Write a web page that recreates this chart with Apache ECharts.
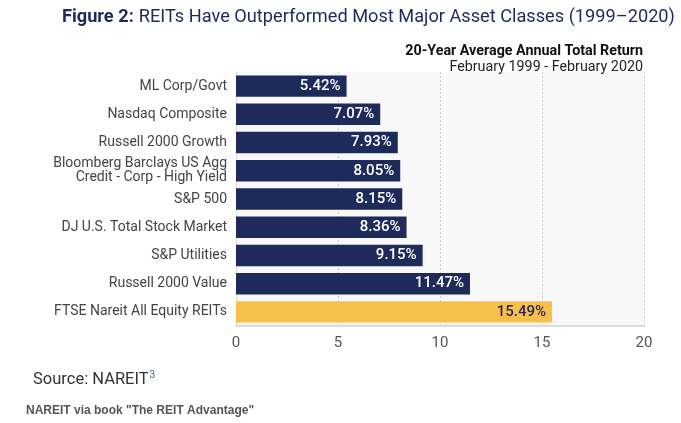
<!DOCTYPE html>
<html>
<head>
<meta charset="utf-8">
<script src="https://cdn.jsdelivr.net/npm/echarts@6/dist/echarts.min.js"></script>
<style>
html,body{margin:0;padding:0;background:#fff;}
#c{width:681px;height:423px;}
</style>
</head>
<body>
<div id="c"></div>
<script>
var categories = [
  'ML Corp/Govt',
  'Nasdaq Composite',
  'Russell 2000 Growth',
  'Bloomberg Barclays US Agg\nCredit - Corp - High Yield',
  'S&P 500',
  'DJ U.S. Total Stock Market',
  'S&P Utilities',
  'Russell 2000 Value',
  'FTSE Nareit All Equity REITs'
];
var returns = [5.42, 7.07, 7.93, 8.05, 8.15, 8.36, 9.15, 11.47, 15.49];
var xTicks = [0, 5, 10, 15, 20];

var NAVY = '#1e2a5a';
var GOLD = '#f8bf4a';
var lastIdx = returns.length - 1;

var chart = echarts.init(document.getElementById('c'));
chart.setOption({
  animation: false,
  backgroundColor: '#ffffff',
  title: [
    {
      text: '{b|Figure 2:} {r|REITs Have Outperformed Most Major Asset Classes (1999\u20132020)}',
      left: 62, top: 8, padding: 0,
      textStyle: {
        rich: {
          b: {fontFamily: 'Roboto', fontWeight: 'bold', fontSize: 18.2, color: NAVY},
          r: {fontFamily: 'Roboto', fontWeight: 'normal', fontSize: 18.2, color: NAVY}
        }
      }
    },
    {
      text: '20-Year Average Annual Total Return',
      right: 38, top: 44, padding: 0,
      textStyle: {fontFamily: 'Roboto', fontWeight: 'bold', fontSize: 14.3, color: '#111'}
    },
    {
      text: 'February 1999 - February 2020',
      right: 38, top: 60, padding: 0,
      textStyle: {fontFamily: 'Roboto', fontWeight: 'normal', fontSize: 14.3, color: '#222'}
    },
    {
      text: 'Source: NAREIT{s|3}',
      left: 33, top: 370, padding: 0,
      textStyle: {
        fontFamily: 'Roboto', fontWeight: 'normal', fontSize: 16.5, color: '#333',
        rich: {s: {fontFamily: 'Roboto', fontSize: 10, color: '#3b5aa6', verticalAlign: 'top', padding: [0,0,9,1]}}
      }
    },
    {
      text: 'NAREIT via book "The REIT Advantage"',
      left: 26, top: 405, padding: 0,
      textStyle: {fontFamily: 'Liberation Sans', fontWeight: 'bold', fontSize: 12, color: '#555'}
    }
  ],
  grid: {
    left: 236, right: 37, top: 72, bottom: 97,
    show: true, backgroundColor: '#f8f8f8', borderWidth: 0
  },
  xAxis: {
    type: 'value',
    min: xTicks[0], max: xTicks[xTicks.length - 1], interval: 5,
    axisLine: {show: true, lineStyle: {color: '#dcdcdc', width: 2}},
    axisTick: {show: false},
    splitLine: {show: true, lineStyle: {color: '#cfcfcf', type: [2, 2], width: 1}},
    axisLabel: {fontFamily: 'Roboto', fontSize: 15, color: '#555', margin: 10}
  },
  yAxis: {
    type: 'category',
    data: categories,
    inverse: true,
    axisLine: {show: true, lineStyle: {color: '#dcdcdc', width: 1}},
    axisTick: {show: false},
    axisLabel: {fontFamily: 'Roboto', fontSize: 14, color: '#444', margin: 9, lineHeight: 14, align: 'right'}
  },
  series: [{
    type: 'bar',
    data: returns.map(function (v, i) {
      return i === lastIdx ? {value: v, label: {color: NAVY}} : v;
    }),
    barCategoryGap: '24%',
    itemStyle: {
      color: function (p) { return p.dataIndex === lastIdx ? GOLD : NAVY; }
    },
    label: {
      show: true,
      position: 'insideRight',
      distance: 6,
      fontFamily: 'Roboto',
      fontWeight: 500,
      fontSize: 15,
      formatter: function (p) { return p.value.toFixed(2) + '%'; },
      color: '#ffffff'
    }
  }]
});
</script>
</body>
</html>
